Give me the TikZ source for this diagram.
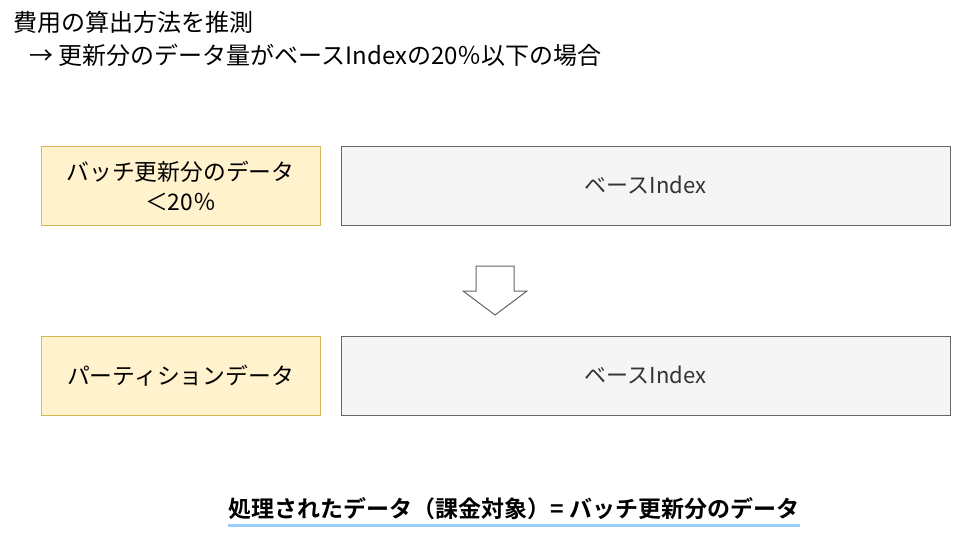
\documentclass[tikz,border=0pt]{standalone}
\usepackage{fontspec}
\setmainfont{Noto Sans CJK JP}[BoldFont={* Bold}]
\definecolor{kiiro}{HTML}{FFF2CC}
\definecolor{kiirosen}{HTML}{D6B656}
\definecolor{haiiro}{HTML}{F5F5F5}
\definecolor{haiirosen}{HTML}{666666}
\definecolor{aosen}{HTML}{99CCFF}

\begin{document}
\begin{tikzpicture}[x=1pt, y=-1pt,
		batch/.style={rectangle, draw=kiirosen, fill=kiiro, line width=1pt, minimum width=279pt, minimum height=79pt, align=center, font=\fontsize{22.8}{30}\selectfont},
		base/.style={rectangle, draw=haiirosen, fill=haiiro, line width=1pt, minimum width=609pt, minimum height=79pt, font=\fontsize{22}{26}\selectfont, text=black!80}
		]
		\useasboundingbox (0, 0) rectangle (971, 538);
		
		% ---- TITULO ----
		\node[anchor=west, align=left, font=\fontsize{24}{33}\selectfont] (titulo) at (10, 39)
			{費用の算出方法を推測\\\hspace*{16pt}→ 更新分のデータ量がベースIndexの20％以下の場合};
		
		% ---- CAJAS ----
		\node[batch] (lote) at (180.5, 185.5) {バッチ更新分のデータ\\＜20％};
		\node[base] (base1) at (645.5, 185.5) {ベースIndex};
		
		\node[batch] (part) at (180.5, 375.5) {パーティションデータ};
		\node[base] (base2) at (645.5, 375.5) {ベースIndex};
		
		% ---- FLECHA ----
		\draw[draw=haiirosen, fill=white, line width=1pt, line join=miter]
			(476, 266) -- (514, 266) -- (514, 291) -- (527, 291) -- (495, 315)
			-- (463, 291) -- (476, 291) -- cycle;
		
		% ---- RESULTADO ----
		\node[font=\fontsize{23}{26}\selectfont\bfseries, inner sep=0pt] (res) at (514, 509)
			{処理されたデータ（課金対象）= バッチ更新分のデータ};
		\draw[aosen, line width=2.5pt] ([yshift=-5pt]res.south west) -- ([yshift=-5pt]res.south east);
		
	\end{tikzpicture}
\end{document}
